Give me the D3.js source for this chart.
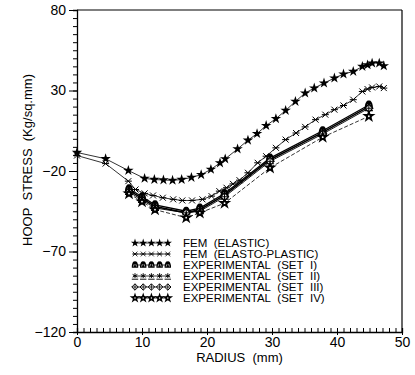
<!DOCTYPE html>
<html>
<head>
<meta charset="utf-8">
<script src="https://cdn.jsdelivr.net/npm/d3@7"></script>
<style>
  body { margin: 0; background: #fff; }
  text { font-family: "Liberation Sans", Arial, sans-serif; fill: #000; }
</style>
</head>
<body>
<script>
const width = 415;
const height = 375;
const margin = {top: 10, right: 13, bottom: 43, left: 77};

// FEM elastic (stars)
const femElasticX = [0, 4.4, 7.9, 10.4, 11.9, 13.3, 14.7, 16.1, 17.6, 19.1, 20.6, 22.0, 22.8, 24.7, 26.3, 27.7, 29.1, 30.6, 32.1, 33.6, 35.1, 36.5, 38.0, 39.6, 41.0, 42.5, 43.9, 44.7, 45.4, 46.5, 47.2];
const femElasticY = [-8.5, -12.4, -19.7, -24.6, -25.3, -25.6, -25.8, -25.3, -24.0, -22.3, -19.0, -15.0, -12.5, -6.3, -0.9, 3.2, 8.2, 12.5, 17.6, 23.2, 28.4, 31.5, 34.6, 37.7, 40.2, 41.8, 44.9, 45.9, 47.0, 47.0, 45.3];

// FEM elasto-plastic (crosses)
const femPlasticX = [0, 4.4, 7.9, 9.0, 10.4, 11.7, 13.2, 14.8, 16.2, 17.7, 19.3, 20.7, 21.9, 23.0, 24.0, 25.0, 26.3, 27.8, 29.1, 30.6, 32.1, 33.7, 35.1, 36.7, 38.2, 39.6, 41.0, 42.5, 43.9, 44.7, 45.4, 46.5, 47.2];
const femPlasticY = [-10.4, -15.4, -26.3, -31.5, -33.9, -35.2, -36.6, -37.6, -38.3, -38.3, -37.6, -35.6, -32.5, -30.4, -28.0, -25.7, -21.1, -14.9, -10.8, -5.6, -0.5, 3.6, 7.4, 11.9, 15.0, 18.1, 20.7, 24.3, 29.4, 30.9, 31.9, 32.5, 31.5];

// experimental measurements
const expX = [8, 10, 12, 16.8, 18.9, 22.7, 29.7, 37.8, 44.9];
const expSet1 = [-31, -36, -41, -45, -43, -34, -12, 5, 21];
const expSet2 = [-32, -37, -42, -46, -44, -35, -13, 4, 20];
const expSet3 = [-33, -38, -43, -46, -45, -36, -14, 3, 19];
const expSet4 = [-34, -39, -44, -49, -46, -40, -18, 1, 14];

const legendLabels = ["FEM  (ELASTIC)", "FEM  (ELASTO-PLASTIC)", "EXPERIMENTAL  (SET  I)", "EXPERIMENTAL  (SET  II)", "EXPERIMENTAL  (SET  III)", "EXPERIMENTAL  (SET  IV)"];
const xTicks = [0, 10, 20, 30, 40, 50];
const yTicks = [-120, -70, -20, 30, 80];

// keep double spaces visible in svg text
const keepSpaces = s => s.replace(/  /g, "\u00A0\u00A0");

const svg = d3.select("body").append("svg")
    .attr("width", width)
    .attr("height", height);

const x = d3.scaleLinear().domain([0, 50]).range([margin.left, width - margin.right]);
const y = d3.scaleLinear().domain([-120, 80]).range([height - margin.bottom, margin.top]);

// marker painters, each draws at (0,0) inside a group
const markers = {
    star: g => g.append("path").attr("d", d3.symbol(d3.symbolStar, 34)()).attr("fill", "#000"),
    cross: g => {
        g.append("path").attr("d", "M-3,-3L3,3M-3,3L3,-3M-3.5,0L3.5,0").attr("stroke", "#000").attr("stroke-width", 1).attr("fill", "none");
    },
    bell: g => {
        g.append("path").attr("d", "M-4,3.5L-4,1Q-3,-5 0,-4.5Q3,-5 4,1L4,3.5Z").attr("fill", "#000");
        g.append("path").attr("d", "M-2,2L-1,-1M2,2L1,-1").attr("stroke", "#fff").attr("stroke-width", 0.8);
    },
    aster: g => {
        g.append("path").attr("d", "M0,-3.5L0,2.5M-3,-2L3,1.5M-3,1.5L3,-2M-4,4L4,4").attr("stroke", "#000").attr("stroke-width", 1.2).attr("fill", "none");
    },
    plusDiamond: g => {
        g.append("path").attr("d", "M0,-4L4,0L0,4L-4,0Z").attr("fill", "#fff").attr("stroke", "#000").attr("stroke-width", 1.2);
        g.append("path").attr("d", "M0,-4L0,4M-4,0L4,0").attr("stroke", "#000").attr("stroke-width", 1);
    },
    gear: g => {
        g.append("path").attr("d", d3.symbol(d3.symbolStar, 55)()).attr("fill", "#000");
        g.append("circle").attr("r", 2.8).attr("fill", "#000");
        g.append("circle").attr("r", 0.9).attr("fill", "#fff");
    }
};

// axes frame
svg.append("line").attr("x1", x(0)).attr("x2", x(50)).attr("y1", y(80)).attr("y2", y(80)).attr("stroke", "#000").attr("stroke-width", 1.2);
svg.append("line").attr("x1", x(50)).attr("x2", x(50)).attr("y1", y(80)).attr("y2", y(-120)).attr("stroke", "#000").attr("stroke-width", 1.2);

svg.append("g")
    .attr("transform", `translate(${x(0)},0)`)
    .call(d3.axisLeft(y).tickValues(d3.range(-120, 81, 5)).tickSize(4).tickFormat(""))
    .call(g => g.select(".domain").attr("stroke-width", 1.3));
svg.append("g")
    .attr("transform", `translate(${x(0)},0)`)
    .call(d3.axisLeft(y).tickValues(yTicks).tickSize(8).tickPadding(3).tickFormat(d => d < 0 ? "\u2212" + (-d) : d))
    .call(g => g.select(".domain").remove())
    .call(g => g.selectAll("text").attr("font-size", 14).attr("font-family", "Liberation Sans, Arial, sans-serif"));

svg.append("g")
    .attr("transform", `translate(0,${y(-120)})`)
    .call(d3.axisTop(x).tickValues(d3.range(0, 51, 1)).tickSize(4).tickFormat(""))
    .call(g => g.select(".domain").attr("stroke-width", 1.3));
svg.append("g")
    .attr("transform", `translate(0,${y(-120)})`)
    .call(d3.axisBottom(x).tickValues(xTicks).tickSize(3).tickPadding(2))
    .call(g => g.select(".domain").remove())
    .call(g => g.selectAll("text").attr("font-size", 14).attr("font-family", "Liberation Sans, Arial, sans-serif"));

// axis titles
svg.append("text")
    .attr("x", x(25)).attr("y", 362)
    .attr("text-anchor", "middle")
    .attr("font-size", 13)
    .text(keepSpaces("RADIUS  (mm)"));
svg.append("text")
    .attr("transform", `translate(32,160) rotate(-90)`)
    .attr("text-anchor", "middle")
    .attr("font-size", 13)
    .text(keepSpaces("HOOP  STRESS  (Kg/sq.mm)"));

const series = [
    {xs: femElasticX, ys: femElasticY, marker: "star", width: 0.8, dash: null},
    {xs: femPlasticX, ys: femPlasticY, marker: "cross", width: 0.8, dash: null},
    {xs: expX, ys: expSet1, marker: "bell", width: 1.3, dash: null},
    {xs: expX, ys: expSet2, marker: "aster", width: 1.6, dash: null},
    {xs: expX, ys: expSet3, marker: "plusDiamond", width: 0.9, dash: null},
    {xs: expX, ys: expSet4, marker: "gear", width: 0.8, dash: "4,2"}
];

const line = d3.line().x(d => x(d[0])).y(d => y(d[1]));

series.forEach(s => {
    const pts = s.xs.map((v, i) => [v, s.ys[i]]);
    svg.append("path")
        .attr("d", line(pts))
        .attr("fill", "none")
        .attr("stroke", "#000")
        .attr("stroke-width", s.width)
        .attr("stroke-dasharray", s.dash);
    pts.forEach(p => {
        const g = svg.append("g").attr("transform", `translate(${x(p[0])},${y(p[1])})`);
        markers[s.marker](g);
    });
});

// legend
const legendX0 = 133, legendX1 = 170, legendTextX = 183, legendY0 = 243, legendStep = 11;
series.forEach((s, i) => {
    const ly = legendY0 + i * legendStep;
    svg.append("line").attr("x1", legendX0).attr("x2", legendX1).attr("y1", ly).attr("y2", ly)
        .attr("stroke", "#000").attr("stroke-width", 0.8);
    d3.range(5).forEach(k => {
        const g = svg.append("g").attr("transform", `translate(${legendX0 + 2 + k * 8.2},${ly}) scale(0.8)`);
        markers[s.marker](g);
    });
    svg.append("text")
        .attr("x", legendTextX).attr("y", ly + 4)
        .attr("font-size", 11.5)
        .text(keepSpaces(legendLabels[i]));
});
</script>
</body>
</html>
